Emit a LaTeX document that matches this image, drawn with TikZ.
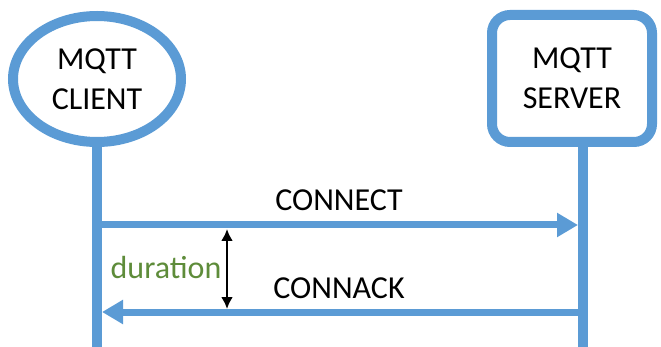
\documentclass[tikz,border=0pt]{standalone}
\usepackage{fontspec}
\setmainfont{Carlito}
\usetikzlibrary{arrows.meta,shapes.geometric}
\definecolor{lblue}{HTML}{5B9BD5}
\definecolor{dgreen}{HTML}{5E8C3A}
\tikzset{
  actor/.style={draw=lblue,line width=10pt,fill=white,inner sep=0pt,align=center,
    font=\fontsize{32}{40}\selectfont},
  life/.style={draw=lblue,line width=10pt},
  msg/.style={draw=lblue,line width=7pt,-{Triangle[length=21pt,width=23pt]}},
  lbl/.style={font=\fontsize{32}{38}\selectfont,inner sep=0pt},
  dur/.style={draw=black,line width=2.8pt,{Latex[length=12pt,width=12pt]}-{Latex[length=12pt,width=12pt]}}
}
\begin{document}
\begin{tikzpicture}[x=1pt,y=-1pt]
\useasboundingbox (0,0) rectangle (661,347);
\coordinate (cb) at (97,352);
\coordinate (sb) at (583,352);
\coordinate (st) at (583,140);
\draw[life] (97,140) -- (cb);
\draw[life] (st) -- (sb);
\node[actor,ellipse,minimum width=168pt,minimum height=126pt] (client) at (97,79) {MQTT\\CLIENT};
\node[actor,rectangle,rounded corners=18pt,minimum width=160pt,minimum height=127pt] (server) at (572,78.5) {MQTT\\SERVER};
\coordinate (c1) at (97,225);
\coordinate (s1) at (578,225);
\coordinate (s2) at (578,312);
\coordinate (c2) at (102,312);
\draw[msg] (c1) -- (s1);
\draw[msg] (s2) -- (c2);
\node[lbl] (connect) at (339,200) {CONNECT};
\node[lbl] (connack) at (339,288) {CONNACK};
\coordinate (d1) at (227,229);
\coordinate (d2) at (227,309);
\draw[dur] (d1) -- (d2);
\node[lbl,text=dgreen] (duration) at (166,268) {duration};
\end{tikzpicture}
\end{document}
